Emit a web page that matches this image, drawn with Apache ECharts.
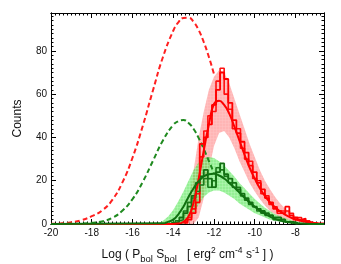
<!DOCTYPE html>
<html><head><meta charset="utf-8">
<script src="https://cdn.jsdelivr.net/npm/echarts@6/dist/echarts.min.js"></script>
<style>html,body{margin:0;padding:0;background:#fff}#c{width:341px;height:264px}</style>
</head><body><div id="c"></div>
<script>
// ---- data ----
const xTicks = [-20, -18, -16, -14, -12, -10, -8];
const yTicks = [0, 20, 40, 60, 80];

const dashX = [-20,-19.5,-19,-18.5,-18,-17.5,-17,-16.5,-16,-15.5,-15,-14.5,-14,-13.75,-13.5,-13.25,-13,-12.75,-12.5,-12.25,-12];
const redDash = [0.1,0.3,0.8,1.8,3.6,6.2,11.0,19.1,30.6,45.2,61.6,77.3,89.3,93.2,95.2,95.3,93.4,89.6,84.0,77.2,69.3];
const greenDash = [0,0.05,0.1,0.2,0.6,1.2,2.8,6.1,11.5,19.4,29.1,38.7,45.8,47.5,48,46.7,43.9,39.7,34.6,29.1,23.6];

const fitX = [-20,-14.5,-14.25,-14,-13.75,-13.5,-13.25,-13,-12.75,-12.5,-12.25,-12,-11.75,-11.5,-11.25,-11,-10.75,-10.5,-10.25,-10,-9.75,-9.5,-9.25,-9,-8.75,-8.5,-8.25,-8,-7.75,-7.5,-7,-6.6];
const redFit = [0,0,0,0,0.2,1,3.5,10,21,34,46,55.5,57,55,51,45,38.5,32,26,21,16.5,13,10,7.7,5.8,4.3,3.1,2.2,1.5,1,0.4,0.2];
const greenFit = [0,0.3,1,2,4.5,8,12.5,16.5,19.8,22,23,23.2,22.4,21,19,16.8,14.5,12.2,10,8,6.2,4.7,3.4,2.4,1.6,1,0.7,0.4,0.2,0.1,0,0];

const bandX = [-14.8,-14.5,-14.25,-14,-13.75,-13.5,-13.25,-13,-12.75,-12.5,-12.25,-12,-11.75,-11.5,-11.25,-11,-10.75,-10.5,-10.25,-10,-9.75,-9.5,-9.25,-9,-8.75,-8.5,-8.25,-8,-7.5,-7,-6.6];
const redUp = [0,0,0,0,0,3,10,25,40,52,62,68,71,70,65,58,51,44,37,31,25,20,16,12.5,9.5,7,5,3.5,1.5,0.6,0.3];
const redLo = [0,0,0,0,0,0,0,0,3,12,25,36,42,43,40,35,29,24,19,15,11.5,8.5,6,4.5,3,2,1.5,1,0.3,0,0];
const greenUp = [0,1.5,3.5,6.5,10.5,15,20,25,28.5,30.5,31,30.5,29,27,24.5,22,19,16.5,14,11.5,9.5,7.5,6,4.5,3.5,2.5,1.8,1.2,0.5,0,0];
const greenLo = [0,0,0,0,0,0,2,5,9,12.5,14.5,15.5,15.5,14.5,13,11.5,9.5,8,6.5,5,4,3,2,1.5,1,0.6,0.4,0.2,0,0,0];

const redEdges = [-13.5,-13.3,-13.1,-12.9,-12.7,-12.5,-12.3,-12.1,-11.9,-11.7,-11.5,-11.3,-11.1,-10.9,-10.7,-10.5,-10.3,-10.1,-9.9,-9.7,-9.5,-9.3,-9.1,-8.9,-8.7,-8.5,-8.3,-8.1,-7.9,-7.7,-7.5,-7.3,-7.1,-6.9];
const redHistA = [0.5,2,5,10,37,40,46,55,62,70,67,56,48,42,38,33,27,24,19,16,12,10,7,6,5,8,4,3,2,2.5,1,0.5,0.3];
const redHistB = [1,3,7,14,31,43,50,52,66,72,60,53,44,44,35,30,29,21,20,14,13,9,8,5,6,6,5,2,3,1.5,1.5,0.5,0];

const greenEdges = [-14.1,-13.9,-13.7,-13.5,-13.3,-13.1,-12.9,-12.7,-12.5,-12.3,-12.1,-11.9,-11.7,-11.5,-11.3,-11.1,-10.9,-10.7,-10.5,-10.3,-10.1,-9.9,-9.7,-9.5,-9.3,-9.1,-8.9,-8.7,-8.5,-8.3,-8.1,-7.9];
const greenHistA = [0.5,1,3,5,8,13,19,22,25,21,17,24,28,23,21,19,16,14,12,10,8,7,6,5,4,3,3,2,1,1,0.5];
const greenHistB = [0,1.5,2,6,10,12,15,18,21,17,20,26,25,22,19,17,17,13,11,9,8,6,5,4,4,2,2,2,1,0.5,0];

// ---- helpers ----
const pairs = (xs, ys) => xs.map((x, i) => [x, ys[i]]);
const hist = (edges, vals) => edges.map((e, i) => [e, i < vals.length ? vals[i] : 0]);
function hatch(base, line) {
  const cv = document.createElement('canvas');
  cv.width = 3; cv.height = 3;
  const g = cv.getContext('2d');
  g.fillStyle = base; g.fillRect(0, 0, 3, 3);
  g.fillStyle = line; g.fillRect(0, 0, 3, 1); g.fillRect(0, 0, 1, 3);
  return { image: cv, repeat: 'repeat' };
}
function band(lo, up, fill) {
  return {
    type: 'custom', silent: true, z: 1,
    data: bandX.map((x, i) => [x, lo[i], up[i]]),
    renderItem: function (params, api) {
      if (params.dataIndex !== 0) return null;
      const pts = [];
      for (let i = 0; i < bandX.length; i++) pts.push(api.coord([bandX[i], up[i]]));
      for (let i = bandX.length - 1; i >= 0; i--) pts.push(api.coord([bandX[i], lo[i]]));
      return { type: 'polygon', shape: { points: pts }, style: { fill: fill, stroke: null } };
    }
  };
}
const FONT = 'Liberation Sans, Arial, Helvetica, sans-serif';
const XMIN = -20, XMAX = -6.6, YMIN = 0, YMAX = 97.5;

function ax(min, max, pos, interval, len, labels, extra) {
  return Object.assign({
    type: 'value', position: pos, min: min, max: max, interval: interval,
    axisLine: { show: true, onZero: false, lineStyle: { color: '#000', width: 1 } },
    axisTick: { show: true, inside: true, length: len, lineStyle: { color: '#000', width: 1 } },
    axisLabel: { show: labels, showMaxLabel: false, fontSize: 10, color: '#111', fontFamily: FONT, margin: 4 },
    splitLine: { show: false }
  }, extra || {});
}

const chart = echarts.init(document.getElementById('c'), null, { renderer: 'canvas' });
chart.setOption({
  animation: false,
  backgroundColor: '#fff',
  grid: { left: 51, right: 17, top: 13, bottom: 40, containLabel: false, outerBoundsMode: 'none' },
  xAxis: [
    ax(XMIN, XMAX, 'bottom', 2, 5, true, {
      name: '{a|Log ( P}{b|bol}{a| S}{b|bol}{a|   [ erg}{c|2}{a| cm}{c|-4}{a| s}{c|-1}{a| ] )}',
      nameLocation: 'middle', nameGap: 16,
      nameTextStyle: {
        color: '#111', fontFamily: FONT, fontSize: 12,
        rich: {
          a: { fontSize: 12, fontFamily: FONT, color: '#111', lineHeight: 24, verticalAlign: 'middle' },
          b: { fontSize: 9.5, fontFamily: FONT, color: '#111', lineHeight: 10, verticalAlign: 'bottom', padding: [0, 0, 3, 0] },
          c: { fontSize: 8.5, fontFamily: FONT, color: '#111', lineHeight: 9, verticalAlign: 'top', padding: [3, 0, 0, 0] }
        }
      }
    }),
    ax(XMIN, XMAX, 'bottom', 0.2, 2.5, false),
    ax(XMIN, XMAX, 'top', 2, 5, false),
    ax(XMIN, XMAX, 'top', 0.2, 2.5, false)
  ],
  yAxis: [
    ax(YMIN, YMAX, 'left', 20, 5, true, {
      name: 'Counts', nameLocation: 'middle', nameGap: 27, nameRotate: 90,
      nameTextStyle: { color: '#111', fontFamily: FONT, fontSize: 12 }
    }),
    ax(YMIN, YMAX, 'left', 2, 2.5, false),
    ax(YMIN, YMAX, 'right', 20, 5, false),
    ax(YMIN, YMAX, 'right', 2, 2.5, false)
  ],
  series: [
    band(redLo, redUp, hatch('rgba(255,120,120,0.55)', 'rgba(255,200,200,0.35)')),
    band(greenLo, greenUp, hatch('rgba(60,225,60,0.55)', 'rgba(190,250,190,0.4)')),
    { type: 'line', data: pairs(dashX, redDash), smooth: true, showSymbol: false, z: 3,
      lineStyle: { color: '#ff2020', width: 2, type: [5, 3] } },
    { type: 'line', data: pairs(dashX, greenDash), smooth: true, showSymbol: false, z: 3,
      lineStyle: { color: '#1f8a1f', width: 2, type: [5, 3] } },
    { type: 'line', data: hist(redEdges, redHistB), step: 'end', showSymbol: false, z: 4,
      lineStyle: { color: '#ff1010', width: 1.6 } },
    { type: 'line', data: hist(redEdges, redHistA), step: 'end', showSymbol: false, z: 4,
      lineStyle: { color: '#ff0000', width: 1.8 } },
    { type: 'line', data: hist(greenEdges, greenHistB), step: 'end', showSymbol: false, z: 5,
      lineStyle: { color: '#1a7a1a', width: 1.6 } },
    { type: 'line', data: hist(greenEdges, greenHistA), step: 'end', showSymbol: false, z: 5,
      lineStyle: { color: '#137013', width: 1.8 } },
    { type: 'line', data: pairs(fitX, redFit), smooth: true, showSymbol: false, z: 6,
      lineStyle: { color: '#ff0000', width: 2 } },
    { type: 'line', data: pairs(fitX, greenFit), smooth: true, showSymbol: false, z: 7,
      lineStyle: { color: '#107010', width: 2 } }
  ]
});
</script>
</body></html>
